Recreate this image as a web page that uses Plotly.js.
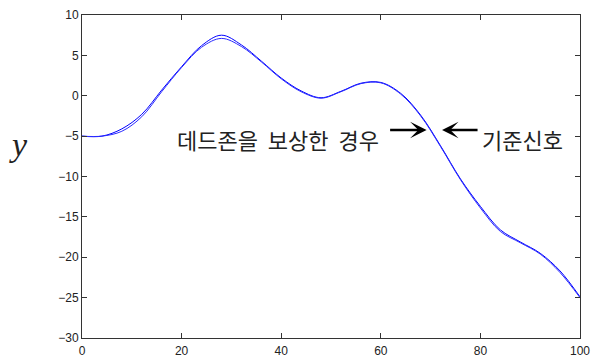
<!DOCTYPE html>
<html>
<head>
<meta charset="utf-8">
<script src="https://cdn.plot.ly/plotly-3.0.1.min.js"></script>
<style>html,body{margin:0;padding:0;background:#fff;}#chart{width:597px;height:360px;}</style>
</head>
<body>
<div id="chart"></div>
<script>
const xs = [0, 4, 8, 12, 16, 20, 24, 28, 32, 36, 40, 44, 48, 52, 56, 60, 64, 68, 72, 76, 80, 84, 88, 92, 96, 100];
const referenceSignal = [-5, -5, -4.1, -2.3, 0.7, 3.6, 6.2, 7.5, 6.3, 4.3, 2.2, 0.6, -0.25, 0.55, 1.55, 1.65, 0.3, -2.4, -6.2, -10.3, -13.7, -16.6, -18.1, -19.5, -21.7, -24.9];
const compensated = [-5, -5, -4.4, -2.6, 0.5, 3.5, 6.0, 7.1, 6.1, 4.2, 2.1, 0.5, -0.3, 0.5, 1.5, 1.6, 0.2, -2.5, -6.3, -10.4, -13.9, -16.8, -18.2, -19.6, -21.9, -25.0];
const labelCompensated = '데드존을\u00a0 보상한\u00a0 경우';
const labelReference = '기준신호';
const yLabel = 'y';

const data = [
  {x: xs, y: referenceSignal, type: 'scatter', mode: 'lines', line: {color: '#0000ff', width: 1, shape: 'spline', smoothing: 1}, hoverinfo: 'skip'},
  {x: xs, y: compensated, type: 'scatter', mode: 'lines', line: {color: '#2a2aff', width: 1, shape: 'spline', smoothing: 1}, hoverinfo: 'skip'}
];

const axisCommon = {
  showgrid: false, zeroline: false, showline: true, linecolor: '#333', linewidth: 1,
  mirror: 'allticks', ticks: 'inside', ticklen: 5, tickcolor: '#333',
  tickfont: {family: 'Liberation Sans, Arial, sans-serif', size: 12, color: '#222'}
};

const layout = {
  width: 597, height: 360,
  margin: {l: 82, r: 17, t: 15, b: 22},
  paper_bgcolor: '#fff', plot_bgcolor: '#fff',
  showlegend: false,
  xaxis: Object.assign({}, axisCommon, {range: [0, 100], tickvals: [0, 20, 40, 60, 80, 100], ticklabelstandoff: 2}),
  yaxis: Object.assign({}, axisCommon, {range: [-30, 10], tickvals: [-30, -25, -20, -15, -10, -5, 0, 5, 10]}),
  annotations: [
    {x: 60.1, y: -5.3, xref: 'x', yref: 'y', text: labelCompensated, showarrow: false, xanchor: 'right', yanchor: 'middle',
     font: {family: 'Noto Sans CJK KR', size: 22, color: '#222'}},
    {x: 79.9, y: -5.3, xref: 'x', yref: 'y', text: labelReference, showarrow: false, xanchor: 'left', yanchor: 'middle',
     font: {family: 'Noto Sans CJK KR', size: 22, color: '#222'}},
    {x: 69.2, y: -4.25, xref: 'x', yref: 'y', ax: -38, ay: 0, text: '', showarrow: true, arrowhead: 3, arrowsize: 1.1, arrowwidth: 2.5, arrowcolor: '#000'},
    {x: 72.3, y: -4.25, xref: 'x', yref: 'y', ax: 37, ay: 0, text: '', showarrow: true, arrowhead: 3, arrowsize: 1.1, arrowwidth: 2.5, arrowcolor: '#000'},
    {x: -0.128, y: 0.6, xref: 'paper', yref: 'paper', text: '<i>' + yLabel + '</i>', showarrow: false, xanchor: 'center', yanchor: 'middle',
     font: {family: 'Liberation Serif, DejaVu Serif, serif', size: 34, color: '#222'}}
  ]
};

Plotly.newPlot('chart', data, layout, {staticPlot: true, displayModeBar: false});
</script>
</body>
</html>
